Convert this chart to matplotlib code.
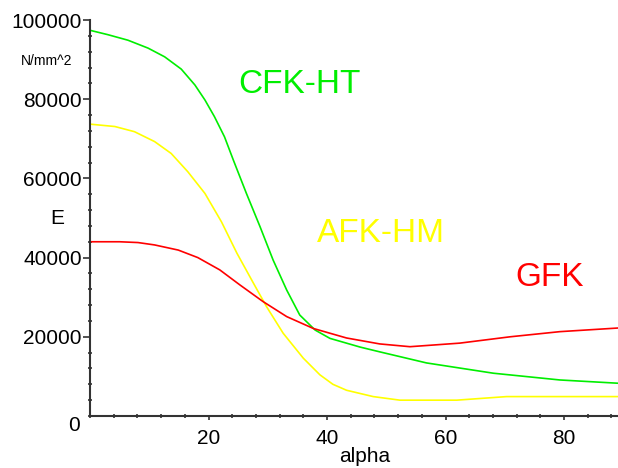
import matplotlib
matplotlib.use('Agg')
import matplotlib.pyplot as plt
from matplotlib.ticker import MultipleLocator

plt.rcParams['font.family'] = ['Liberation Sans', 'DejaVu Sans']

# values (alpha in degrees, E in N/mm^2)
cfk_alpha = [0, 3.0, 6.4, 9.8, 12.6, 15.4, 17.7, 19.4, 21.0, 22.7, 24.2, 26.4,
             28.7, 30.9, 33.2, 35.4, 38.0, 40.5, 45.6, 48.9, 56.8, 68.1, 79.3, 90]
cfk_E = [97400, 96300, 94900, 92900, 90700, 87600, 83600, 79800, 75600, 70500,
         64600, 56200, 47800, 39400, 31800, 25500, 21700, 19600, 17400, 16200,
         13400, 10800, 9100, 8200]

afk_alpha = [0, 4.2, 7.5, 10.9, 13.7, 16.5, 19.4, 22.2, 24.8, 27.6, 29.8, 32.6,
             36.0, 38.8, 41.0, 43.3, 47.8, 52.3, 61.9, 70.3, 90]
afk_E = [73700, 73100, 71800, 69300, 66300, 61700, 56200, 49000, 41100, 33500,
         27600, 20900, 14600, 10400, 8000, 6500, 4900, 4000, 4000, 4900, 4900]

gfk_alpha = [0, 5, 8.1, 10.9, 14.9, 18.2, 21.9, 25.3, 29.2, 33.2, 37.7, 43.3,
             48.9, 54, 62.4, 70.9, 79.3, 90]
gfk_E = [44000, 44000, 43800, 43200, 41900, 40000, 36900, 33100, 28900, 25100,
         22100, 19700, 18200, 17500, 18400, 20000, 21300, 22300]

labels = ['CFK-HT', 'AFK-HM', 'GFK']
colors = ['#00ee00', '#ffff00', '#ff0000']

fig = plt.figure(figsize=(6.18, 4.68), dpi=100)
ax = fig.add_axes([90/618, 52/468, 528/618, 396/468])

ax.plot(cfk_alpha, cfk_E, color=colors[0], lw=1.2)
ax.plot(afk_alpha, afk_E, color=colors[1], lw=1.2)
ax.plot(gfk_alpha, gfk_E, color=colors[2], lw=1.2)

ax.text(35.4, 83600, labels[0], color=colors[0], fontsize=24, ha='center', va='center')
ax.text(49.1, 46000, labels[1], color=colors[1], fontsize=24, ha='center', va='center')
ax.text(77.5, 35000, labels[2], color=colors[2], fontsize=24, ha='center', va='center')

ax.set_xlim(0, 528/5.925)
ax.set_ylim(0, 100000)

for s in ['top', 'right']:
    ax.spines[s].set_visible(False)
for s in ['left', 'bottom']:
    ax.spines[s].set_linewidth(1.5)
    ax.spines[s].set_color('#333333')

ax.set_xticks([20, 40, 60, 80])
ax.set_yticks([20000, 40000, 60000, 80000, 100000])
ax.xaxis.set_minor_locator(MultipleLocator(4))
ax.yaxis.set_minor_locator(MultipleLocator(4000))
ax.tick_params(which='major', length=5, width=1.2, color='#333333', labelsize=15, pad=1)
ax.tick_params(axis='x', which='major', length=3, pad=6)
ax.tick_params(which='minor', length=3, width=1.2, color='#333333', direction='inout')

# lone origin label, as in the reference
ax.text(-16/5.925, -2300, '0', fontsize=15, ha='center', va='center')

fig.text(57/618, 1 - 219/468, 'E', fontsize=15, ha='center', va='center')
fig.text(47/618, 1 - 61/468, 'N/mm^2', fontsize=10, ha='center', va='center')
fig.text(365/618, 1 - 456/468, 'alpha', fontsize=15, ha='center', va='center')

fig.savefig('out.png', dpi=100)
